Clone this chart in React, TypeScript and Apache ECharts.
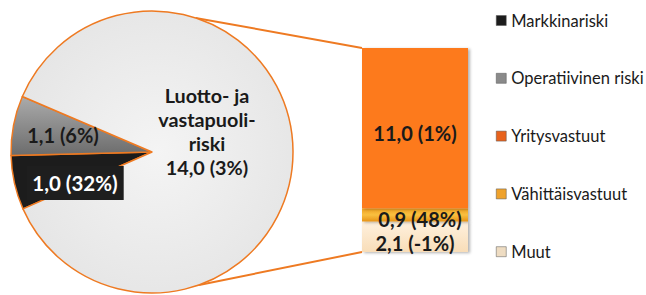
import React, { useEffect, useRef } from "react";
import * as echarts from "echarts";

const pieNames = ["Markkinariski", "Operatiivinen riski", "Luotto- ja vastapuoliriski"];
const pieLabelNames = ["", "", "Luotto- ja\nvastapuoli-\nriski"];
const pieValues = [1.0, 1.1, 14.0];
const pieChanges = ["32%", "6%", "3%"];

const barNames = ["Muut", "Vähittäisvastuut", "Yritysvastuut"];
const barValues = [2.1, 0.9, 11.0];
const barChanges = ["-1%", "48%", "1%"];

const legendOrder = ["Markkinariski", "Operatiivinen riski", "Yritysvastuut", "Vähittäisvastuut", "Muut"];

const FONT = "Lato, 'Open Sans', sans-serif";
const ORANGE_LINE = "#EE7A22";
const PIE_CX = 152;
const PIE_CY = 152;
const PIE_R = 141;
const START_ANGLE = 203.8;

const fmt = (v: number) => v.toFixed(1).replace(".", ",");

const pieColors: any[] = [
  "#1C1C1C",
  new echarts.graphic.LinearGradient(0, 0, 0, 1, [
    { offset: 0, color: "#ABABAB" },
    { offset: 1, color: "#6C6C6C" },
  ]),
  new echarts.graphic.RadialGradient(0.5, 0.5, 0.6, [
    { offset: 0, color: "#F4F4F4" },
    { offset: 1, color: "#E4E4E4" },
  ]),
];

const barColors: any[] = [
  new echarts.graphic.LinearGradient(0, 0, 0, 1, [
    { offset: 0, color: "#FFF1DE" },
    { offset: 1, color: "#F8DDB8" },
  ]),
  new echarts.graphic.LinearGradient(0, 0, 0, 1, [
    { offset: 0, color: "#F0A020" },
    { offset: 0.5, color: "#F9C040" },
    { offset: 1, color: "#E89418" },
  ]),
  "#FD7A1C",
];
const barLabelOffsets = [[0, 6], [5, 4], [0, 5]];

const legendColors: Record<string, string> = {
  Markkinariski: "#1C1C1C",
  "Operatiivinen riski": "#8A8A8A",
  Yritysvastuut: "#E8621C",
  "Vähittäisvastuut": "#EFA22C",
  Muut: "#EEDCC2",
};

// label anchor offsets from the pie centre
const pieLabelShift = [
  [-77, 31],
  [-89, -17],
  [55, -21],
];

export default function App() {
  const ref = useRef<HTMLDivElement>(null);

  useEffect(() => {
    if (!ref.current) return;
    const chart = echarts.init(ref.current, null, { renderer: "svg" });
    const barTotal = barValues.reduce((a, b) => a + b, 0);

    const pieData = pieNames.map((name, i) => {
      const base: any = {
        name,
        value: pieValues[i],
        itemStyle: { color: pieColors[i] },
      };
      if (i === 0) {
        base.label = {
          formatter: `${fmt(pieValues[i])} (${pieChanges[i]})`,
          color: "#FFFFFF",
          backgroundColor: "#1E1E1E",
          padding: [7, 6, 6, 6],
          fontSize: 20.5,
        };
      } else if (i === 1) {
        base.label = {
          formatter: `${fmt(pieValues[i])} (${pieChanges[i]})`,
          color: "#1A1A1A",
          fontSize: 20,
        };
      } else {
        base.label = {
          formatter: `${pieLabelNames[i]}\n${fmt(pieValues[i])} (${pieChanges[i]})`,
          color: "#1A1A1A",
          lineHeight: 24,
          align: "center",
          fontSize: 19.8,
        };
      }
      return base;
    });

    const barSeries = barNames.map((name, i) => ({
      type: "bar",
      name,
      stack: "total",
      data: [barValues[i]],
      barWidth: "100%",
      itemStyle: {
        color: barColors[i],
        shadowColor: "rgba(0,0,0,0.3)",
        shadowBlur: 3,
        shadowOffsetX: 2,
        shadowOffsetY: 1,
      },
      label: {
        show: true,
        position: "inside",
        offset: barLabelOffsets[i],
        formatter: `${fmt(barValues[i])} (${barChanges[i]})`,
        fontFamily: FONT,
        fontWeight: "bold",
        fontSize: 20,
        color: "#1A1A1A",
      },
    }));

    chart.setOption({
      animation: false,
      textStyle: { fontFamily: FONT },
      legend: {
        orient: "vertical",
        left: 491,
        top: 7,
        padding: 5,
        itemWidth: 10,
        itemHeight: 10,
        itemGap: 40.8,
        icon: "rect",
        selectedMode: false,
        textStyle: { fontFamily: FONT, fontSize: 16.5, color: "#1A1A1A", lineHeight: 17 },
        data: legendOrder.map((n) => ({
          name: n,
          itemStyle: { color: legendColors[n], borderColor: "#555", borderWidth: 0.5 },
        })),
      },
      grid: { left: 362, top: 48, width: 106, height: 204 },
      xAxis: { type: "category", data: ["bar"], show: false },
      yAxis: { type: "value", min: 0, max: barTotal, show: false },
      series: [
        {
          type: "pie",
          center: [PIE_CX, PIE_CY],
          radius: PIE_R,
          startAngle: START_ANGLE,
          clockwise: true,
          data: pieData,
          legendHoverLink: false,
          itemStyle: {
            borderColor: ORANGE_LINE,
            borderWidth: 1.5,
          },
          label: {
            show: true,
            position: "inside",
            fontFamily: FONT,
            fontWeight: "bold",
            fontSize: 20,
          },
          labelLine: { show: false },
          labelLayout: (p: any) => {
            const s = pieLabelShift[p.dataIndex];
            return {
              x: PIE_CX + s[0],
              y: PIE_CY + s[1],
              align: "center",
              verticalAlign: "middle",
            };
          },
        },
        ...barSeries,
      ],
    });

    const topPt = chart.convertToPixel({ xAxisIndex: 0, yAxisIndex: 0 }, [0, barTotal]) as number[];
    const botPt = chart.convertToPixel({ xAxisIndex: 0, yAxisIndex: 0 }, [0, 0]) as number[];
    const barLeft = 362;
    const a1 = (72 * Math.PI) / 180;
    const a2 = (-70.5 * Math.PI) / 180;
    chart.setOption({
      graphic: [
        {
          type: "line",
          z: 1,
          shape: {
            x1: PIE_CX + PIE_R * Math.cos(a1),
            y1: PIE_CY - PIE_R * Math.sin(a1),
            x2: barLeft,
            y2: topPt[1],
          },
          style: { stroke: ORANGE_LINE, lineWidth: 2 },
        },
        {
          type: "line",
          z: 1,
          shape: {
            x1: PIE_CX + PIE_R * Math.cos(a2),
            y1: PIE_CY - PIE_R * Math.sin(a2),
            x2: barLeft,
            y2: botPt[1],
          },
          style: { stroke: ORANGE_LINE, lineWidth: 2 },
        },
      ],
    });

    return () => chart.dispose();
  }, []);

  return (
    <div
      ref={ref}
      style={{ position: "fixed", left: 0, top: 0, width: 646, height: 295, background: "#fff" }}
    />
  );
}
